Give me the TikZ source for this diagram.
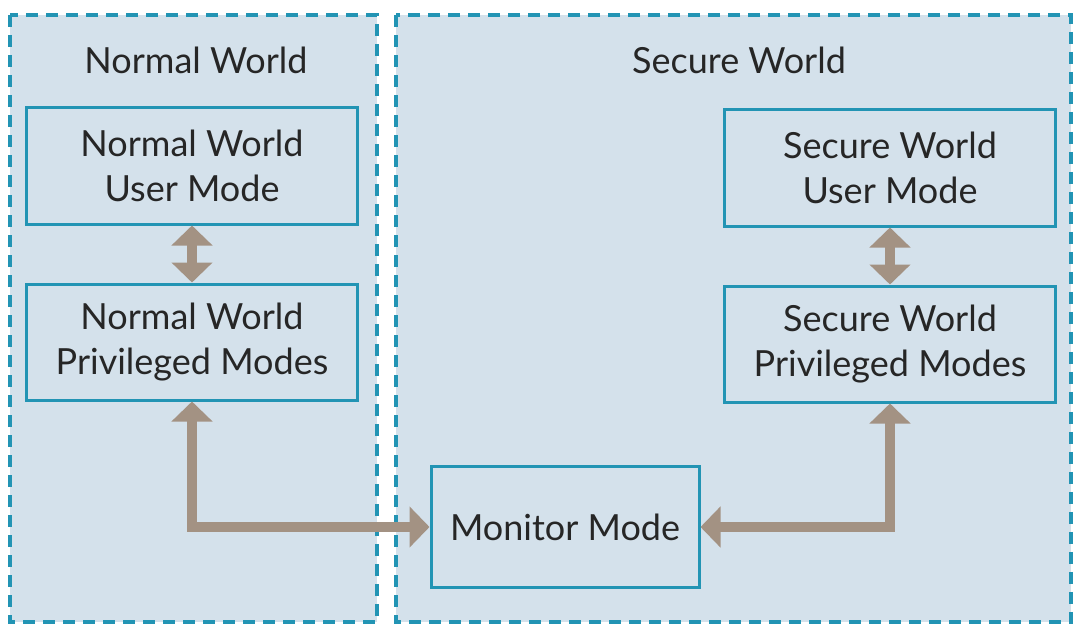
\documentclass[tikz,border=0pt]{standalone}
\usepackage{fontspec}
\setmainfont{Lato}
\usetikzlibrary{arrows.meta,positioning}
\definecolor{worldfill}{RGB}{212,225,235}
\definecolor{worldline}{RGB}{34,148,180}
\definecolor{linkbrown}{RGB}{163,146,131}
\definecolor{textgrey}{RGB}{38,38,38}

\tikzset{
  world/.style={draw=worldline, fill=worldfill, line width=3.5pt, dash pattern=on 12pt off 8pt},
  worldtitle/.style={text=textgrey, font=\fontsize{36}{45}\selectfont},
  modebox/.style={draw=worldline, line width=3pt, minimum width=331pt, minimum height=116pt,
    align=center, text=textgrey, font=\fontsize{36}{45}\selectfont},
  link/.style={draw=linkbrown, line width=10pt, >={Triangle[width=40pt,length=20pt]}},
}

\begin{document}
\begin{tikzpicture}[x=1pt,y=-1pt]
  \useasboundingbox (0,0) rectangle (1086,639);

  % the two worlds
  \draw[world] (10,15) rectangle (377,622);
  \draw[world] (396,15) rectangle (1071,622);
  \node[worldtitle] (nwtitle) at (196,60) {Normal World};
  \node[worldtitle] (swtitle) at (739,60) {Secure World};

  % modes
  \node[modebox] (nwuser) at (192,166) {Normal World\\User Mode};
  \node[modebox] (nwpriv) at (192,342) {Normal World\\Privileged Modes};
  \node[modebox] (swuser) at (890,168) {Secure World\\User Mode};
  \node[modebox] (swpriv) at (890,344) {Secure World\\Privileged Modes};
  \node[modebox, minimum width=268pt, minimum height=121pt] (monitor) at (565,527) {Monitor Mode};

  % switching between modes
  \draw[link,<->] (nwuser) -- (nwpriv);
  \draw[link,<->] (swuser) -- (swpriv);
  \draw[link,<->] (nwpriv) |- (monitor);
  \draw[link,<->] (monitor) -| (swpriv);
\end{tikzpicture}
\end{document}
